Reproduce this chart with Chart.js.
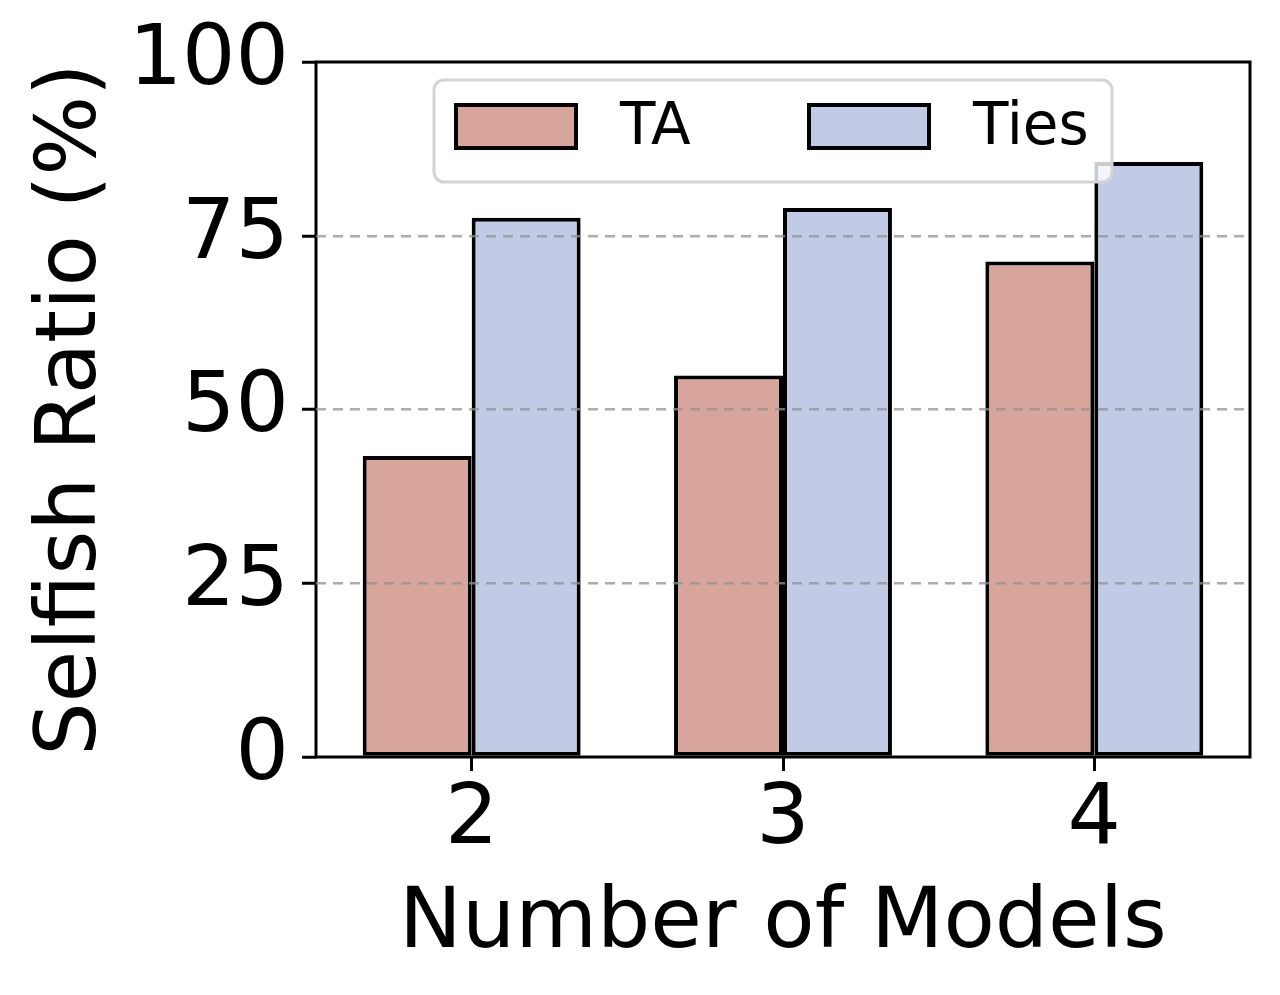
<!DOCTYPE html>
<html>
<head>
<meta charset="utf-8">
<script src="https://cdn.jsdelivr.net/npm/chart.js@4.4.1/dist/chart.umd.min.js"></script>
<style>
  html, body { margin: 0; padding: 0; background: #fff; }
  #chart { display: block; }
</style>
</head>
<body>
<canvas id="chart" width="1280" height="995"></canvas>
<script>
// data
const categories = ['2', '3', '4'];
const taValues = [43.3, 54.9, 71.3];
const tiesValues = [77.6, 79.0, 85.6];
const yTicks = [0, 25, 50, 75, 100];

const FONT = "'DejaVu Sans', sans-serif";

// black frame round the plot area (all four sides)
const framePlugin = {
	id: 'frame',
	afterDatasetsDraw(chart) {
		const {ctx, chartArea: a} = chart;
		ctx.save();
		ctx.strokeStyle = '#000';
		ctx.lineWidth = 3;
		ctx.strokeRect(a.left, a.top, a.right - a.left, a.bottom - a.top);
		ctx.restore();
	}
};

// legend box drawn inside the plot, like matplotlib's "upper center"
const boxLegend = {
	id: 'boxLegend',
	afterDraw(chart) {
		const {ctx, chartArea: a} = chart;
		const x0 = a.left + 118, y0 = a.top + 18, w = 678, h = 102, r = 10;
		ctx.save();
		ctx.beginPath();
		ctx.roundRect(x0, y0, w, h, r);
		ctx.fillStyle = 'rgba(255,255,255,0.8)';
		ctx.fill();
		ctx.strokeStyle = '#d4d4d4';
		ctx.lineWidth = 3;
		ctx.stroke();

		ctx.font = '58px ' + FONT;
		ctx.textBaseline = 'middle';
		chart.data.datasets.forEach((ds, i) => {
			const px = x0 + 22 + i * 353;
			const py = y0 + 25;
			ctx.fillStyle = ds.backgroundColor;
			ctx.fillRect(px, py, 120, 43);
			ctx.strokeStyle = '#000';
			ctx.lineWidth = 4;
			ctx.strokeRect(px, py, 120, 43);
			ctx.fillStyle = '#000';
			ctx.fillText(ds.label, px + 164, py + 24);
		});
		ctx.restore();
	}
};

new Chart(document.getElementById('chart'), {
	type: 'bar',
	data: {
		labels: categories,
		datasets: [
			{
				label: 'TA',
				data: taValues,
				backgroundColor: '#d8a59d',
				borderColor: '#000',
				borderWidth: 4,
				borderSkipped: false
			},
			{
				label: 'Ties',
				data: tiesValues,
				backgroundColor: '#c1cbe6',
				borderColor: '#000',
				borderWidth: 4,
				borderSkipped: false
			}
		]
	},
	options: {
		responsive: false,
		animation: false,
		devicePixelRatio: 1,
		categoryPercentage: 0.7,
		barPercentage: 1,
		layout: { padding: { left: 0, top: 62, right: 30, bottom: 0 } },
		plugins: {
			legend: { display: false },
			tooltip: { enabled: false }
		},
		scales: {
			x: {
				afterFit(scale) { scale.height = 238; },
				grid: {
					offset: false,
					drawOnChartArea: false,
					drawTicks: true,
					tickLength: 14,
					tickWidth: 3,
					tickColor: '#000'
				},
				border: { display: false },
				ticks: {
					color: '#000',
					padding: 8,
					font: { family: FONT, size: 84, lineHeight: 1 }
				},
				title: {
					display: true,
					text: 'Number of Models',
					color: '#000',
					font: { family: FONT, size: 84, lineHeight: 1.2 },
					padding: { top: 0, bottom: 19 }
				}
			},
			y: {
				min: 0,
				max: 100,
				afterFit(scale) { scale.width = 316; },
				afterBuildTicks(scale) { scale.ticks = yTicks.map(v => ({ value: v })); },
				grid: {
					z: 1,
					color: ctx => (ctx.tick && (ctx.tick.value === 0 || ctx.tick.value === 100)) ? 'rgba(0,0,0,0)' : 'rgba(145,145,145,0.75)',
					lineWidth: 2.5,
					drawTicks: true,
					tickLength: 14,
					tickWidth: 3,
					tickColor: '#000'
				},
				border: { display: false, dash: [10, 7] },
				ticks: {
					color: '#000',
					padding: 13,
					font: { family: FONT, size: 84, lineHeight: 1 }
				},
				title: {
					display: true,
					text: 'Selfish Ratio (%)',
					color: '#000',
					font: { family: FONT, size: 84, lineHeight: 1.2 },
					padding: { top: 23, bottom: 0 }
				}
			}
		}
	},
	plugins: [framePlugin, boxLegend]
});
</script>
</body>
</html>
